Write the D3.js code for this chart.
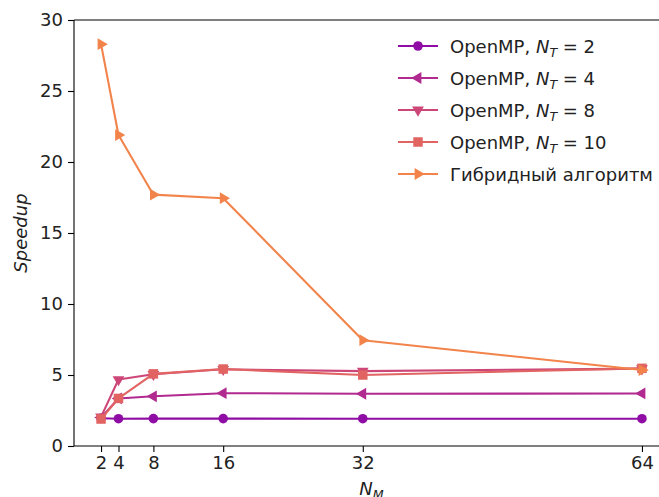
<!DOCTYPE html>
<html>
<head>
<meta charset="utf-8">
<script src="https://cdn.jsdelivr.net/npm/d3@7"></script>
<style>
  html, body { margin: 0; padding: 0; background: #fff; }
  svg { display: block; font-family: "DejaVu Sans", sans-serif; }
</style>
</head>
<body>
<svg id="chart" width="659" height="497"></svg>
<script>
// Mesh sizes N_M
const meshSizes = [2, 4, 8, 16, 32, 64];

// Speedup per configuration
const openmp2  = [1.95, 1.92, 1.93, 1.93, 1.92, 1.92];
const openmp4  = [2.00, 3.35, 3.50, 3.72, 3.68, 3.70];
const openmp8  = [2.05, 4.68, 5.05, 5.40, 5.27, 5.45];
const openmp10 = [1.90, 3.35, 5.08, 5.42, 5.00, 5.47];
const hybrid   = [28.3, 21.9, 17.7, 17.45, 7.45, 5.35];

const xTicks = [2, 4, 8, 16, 32, 64];
const yTicks = [0, 5, 10, 15, 20, 25, 30];

const series = [
  { nt: "2",  values: openmp2,  color: "#8f0da4", marker: "circle" },
  { nt: "4",  values: openmp4,  color: "#b12a90", marker: "tri-left" },
  { nt: "8",  values: openmp8,  color: "#cc4778", marker: "tri-down" },
  { nt: "10", values: openmp10, color: "#e16462", marker: "square" },
  { nt: null, values: hybrid,   color: "#f2844b", marker: "tri-right", label: "Гибридный алгоритм" }
];

const svg = d3.select("#chart");
const plotLeft = 74, plotTop = 20, plotBottom = 446, plotRight = 669;

const x = d3.scaleLinear().domain([-1.1, 67.1]).range([plotLeft, plotRight]);
const y = d3.scaleLinear().domain([0, 30]).range([plotBottom, plotTop]);

const fontSize = 18;
const subSize = 12.6;

// Axes
const xAxis = svg.append("g").attr("transform", `translate(0,${plotBottom})`)
  .call(d3.axisBottom(x).tickValues(xTicks).tickSize(6).tickPadding(4).tickFormat(d3.format("d")));
const yAxis = svg.append("g").attr("transform", `translate(${plotLeft},0)`)
  .call(d3.axisLeft(y).tickValues(yTicks).tickSize(6).tickPadding(5).tickFormat(d3.format("d")));
[xAxis, yAxis].forEach(g => {
  g.selectAll("path.domain").remove();
  g.selectAll(".tick line").attr("stroke", "#000").attr("stroke-width", 1.1);
  g.selectAll(".tick text").attr("font-size", fontSize).attr("fill", "#222")
    .attr("font-family", "DejaVu Sans, sans-serif");
});

// Spines
svg.append("line").attr("x1", plotLeft).attr("x2", plotLeft).attr("y1", plotTop).attr("y2", plotBottom)
  .attr("stroke", "#000").attr("stroke-width", 1.1);
svg.append("line").attr("x1", plotLeft).attr("x2", plotRight).attr("y1", plotBottom).attr("y2", plotBottom)
  .attr("stroke", "#000").attr("stroke-width", 1.1);
svg.append("line").attr("x1", plotLeft).attr("x2", plotRight).attr("y1", plotTop).attr("y2", plotTop)
  .attr("stroke", "#000").attr("stroke-width", 1.1);

// Marker shapes
function markerPath(kind) {
  const tri = d3.symbol().type(d3.symbolTriangle).size(60)();
  switch (kind) {
    case "circle": return { d: d3.symbol().type(d3.symbolCircle).size(72)(), rot: 0 };
    case "square": return { d: d3.symbol().type(d3.symbolSquare).size(90)(), rot: 0 };
    case "tri-left": return { d: tri, rot: -90 };
    case "tri-down": return { d: tri, rot: 180 };
    case "tri-right": return { d: tri, rot: 90 };
  }
}

const line = d3.line().x((d, i) => x(meshSizes[i])).y(d => y(d));

series.forEach(s => {
  const g = svg.append("g");
  g.append("path").datum(s.values).attr("d", line)
    .attr("fill", "none").attr("stroke", s.color).attr("stroke-width", 2.1)
    .attr("stroke-linejoin", "round");
  const m = markerPath(s.marker);
  g.selectAll("path.mk").data(s.values).join("path").attr("class", "mk")
    .attr("d", m.d)
    .attr("transform", (d, i) => `translate(${x(meshSizes[i])},${y(d)}) rotate(${m.rot})`)
    .attr("fill", s.color);
});

// Legend
const legend = svg.append("g");
series.forEach((s, i) => {
  const ly = 46 + i * 32;
  legend.append("line").attr("x1", 398).attr("x2", 438).attr("y1", ly).attr("y2", ly)
    .attr("stroke", s.color).attr("stroke-width", 2.1);
  const m = markerPath(s.marker);
  legend.append("path").attr("d", m.d)
    .attr("transform", `translate(418,${ly}) rotate(${m.rot})`).attr("fill", s.color);
  const t = legend.append("text").attr("x", 450).attr("y", ly + 6.5)
    .attr("font-size", fontSize).attr("fill", "#222");
  if (s.nt) {
    t.append("tspan").text("OpenMP, ");
    t.append("tspan").attr("font-style", "italic").text("N");
    t.append("tspan").attr("font-style", "italic").attr("font-size", subSize).attr("dy", 4).text("T");
    t.append("tspan").attr("dy", -4).text(" = " + s.nt);
  } else {
    t.text(s.label);
  }
});

// Axis titles
const xl = svg.append("text").attr("x", (plotLeft + plotRight) / 2).attr("y", 495)
  .attr("text-anchor", "middle").attr("font-size", fontSize).attr("fill", "#222");
xl.append("tspan").attr("font-style", "italic").text("N");
xl.append("tspan").attr("font-style", "italic").attr("font-size", subSize).attr("dy", 4).text("M");

svg.append("text").attr("transform", `translate(27,${(plotTop + plotBottom) / 2}) rotate(-90)`)
  .attr("text-anchor", "middle").attr("font-size", fontSize).attr("font-style", "italic")
  .attr("fill", "#222").text("Speedup");
</script>
</body>
</html>
